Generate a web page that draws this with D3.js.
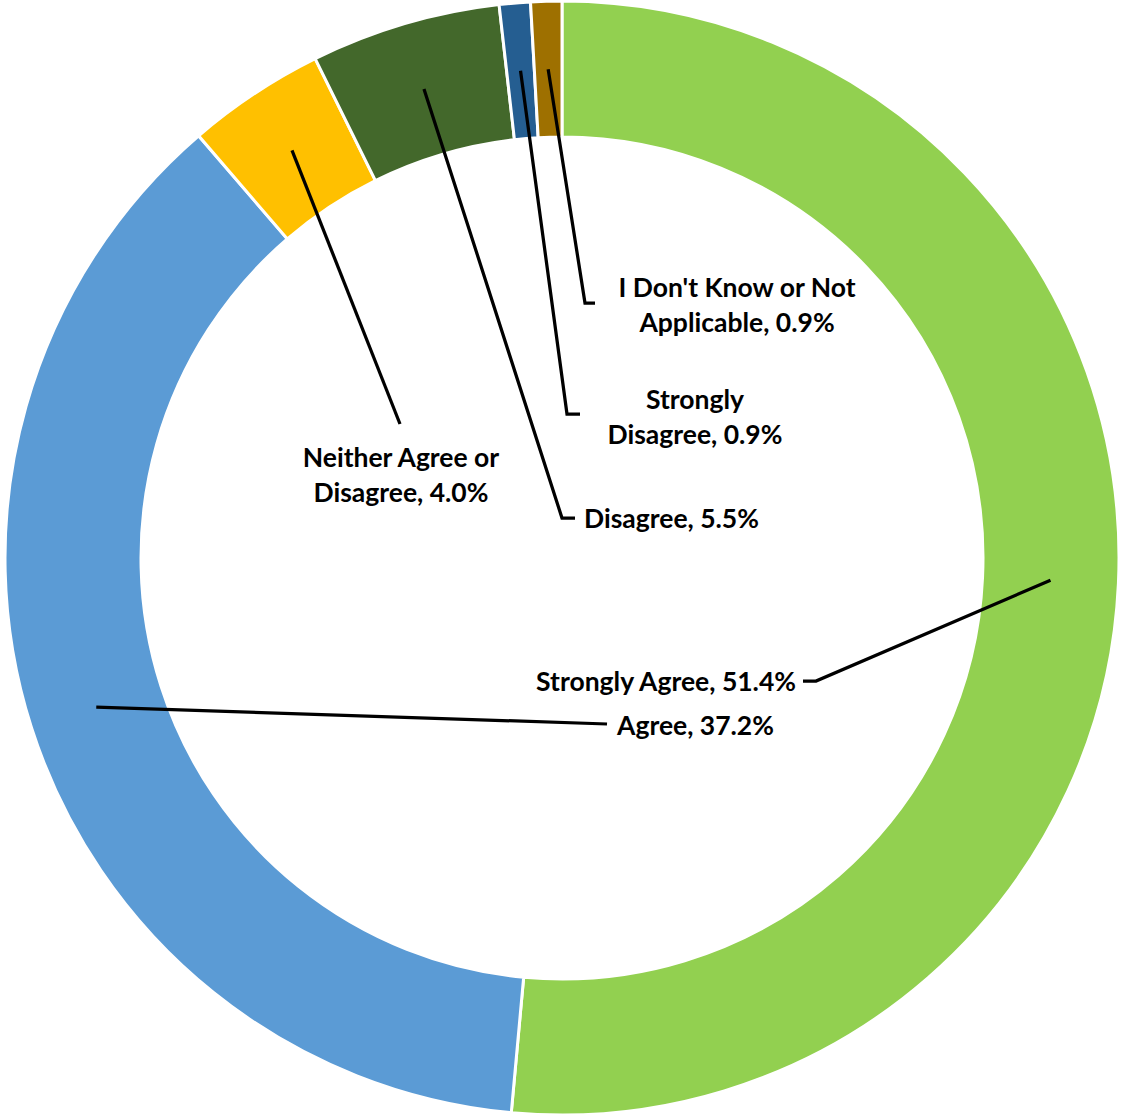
<!DOCTYPE html>
<html>
<head>
<meta charset="utf-8">
<script src="https://cdn.jsdelivr.net/npm/d3@7"></script>
<style>
  html, body { margin: 0; padding: 0; background: #fff; }
  svg { display: block; }
  text { font-family: Lato, "Open Sans", sans-serif; font-weight: bold; fill: #000; }
</style>
</head>
<body>
<svg id="chart" width="1121" height="1116"></svg>
<script>
// ---- data ----
const categories = ["Strongly Agree", "Agree", "Neither Agree or Disagree", "Disagree", "Strongly Disagree", "I Don't Know or Not Applicable"];
const values = [51.4, 37.2, 4.0, 5.5, 0.9, 0.9];
const colors = ["#92D050", "#5B9BD5", "#FFC000", "#43682B", "#255E91", "#9E7000"];
const labelLines = [
  ["Strongly Agree, 51.4%"],
  ["Agree, 37.2%"],
  ["Neither Agree or", "Disagree, 4.0%"],
  ["Disagree, 5.5%"],
  ["Strongly", "Disagree, 0.9%"],
  ["I Don't Know or Not", "Applicable, 0.9%"]
];

// ---- layout (positions of labels, not data) ----
const cx = 562, cy = 558, rOuter = 557, rInner = 421;
const labelLayout = [
  { x: 796, y: 682, anchor: "end",    elbow: [816, 681], end: [803, 681] },
  { x: 617, y: 726, anchor: "start",  elbow: null,       end: [607, 724] },
  { x: 401, y: 458, anchor: "middle", elbow: null,       end: [400, 424] },
  { x: 584, y: 519, anchor: "start",  elbow: [562, 518], end: [575, 518] },
  { x: 695, y: 400, anchor: "middle", elbow: [567, 414], end: [580, 414] },
  { x: 737, y: 288, anchor: "middle", elbow: [585, 303], end: [595, 303] }
];
const lineGap = 35;

const svg = d3.select("#chart");
const g = svg.append("g").attr("transform", `translate(${cx},${cy})`);

const pie = d3.pie().sort(null).value(d => d.value);
const arcs = pie(categories.map((c, i) => ({ name: c, value: values[i], i })));
const arc = d3.arc().innerRadius(rInner).outerRadius(rOuter);

g.selectAll("path.slice").data(arcs).join("path")
  .attr("class", "slice")
  .attr("d", arc)
  .attr("fill", d => colors[d.data.i])
  .attr("stroke", "#fff")
  .attr("stroke-width", 3)
  .attr("stroke-linejoin", "miter");

// leader lines
const lines = svg.append("g");
arcs.forEach(d => {
  const L = labelLayout[d.data.i];
  const c = arc.centroid(d);
  const pts = [[c[0] + cx, c[1] + cy]];
  if (L.elbow) pts.push(L.elbow);
  pts.push(L.end);
  lines.append("path")
    .attr("d", d3.line()(pts))
    .attr("fill", "none")
    .attr("stroke", "#000")
    .attr("stroke-width", 3.25);
});

// labels
const labels = svg.append("g");
arcs.forEach(d => {
  const L = labelLayout[d.data.i];
  const t = labels.append("text")
    .attr("text-anchor", L.anchor)
    .attr("font-size", 26.5);
  labelLines[d.data.i].forEach((s, k) => {
    t.append("tspan").attr("x", L.x).attr("y", L.y + k * lineGap).attr("dy", "0.35em").text(s);
  });
});
</script>
</body>
</html>
